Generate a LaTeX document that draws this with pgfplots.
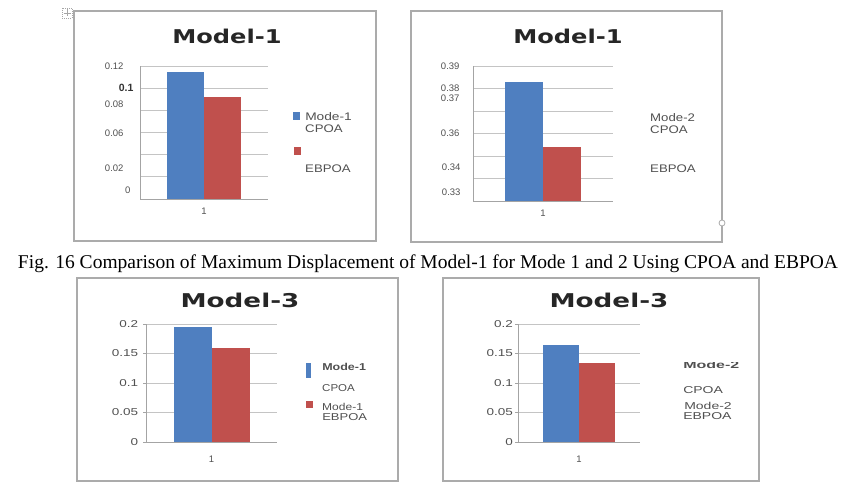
\documentclass[border=0pt]{standalone}
\usepackage{pgfplots}
\pgfplotsset{compat=1.18}
\usepackage{fontspec}
\setmainfont{Liberation Sans}
\newfontfamily\capfont{Liberation Serif}
\newfontfamily\ttlfont{DejaVu Sans}

\definecolor{xlblue}{HTML}{4F7FC0}
\definecolor{xlred}{HTML}{C0504D}
\definecolor{gridgray}{HTML}{C4C4C4}
\definecolor{axisgray}{HTML}{A4A4A4}
\definecolor{framegray}{HTML}{ABABAB}
\definecolor{txtgray}{HTML}{505050}

\tikzset{
  ttl/.style={anchor=base, text=black!85, font=\ttlfont\bfseries\fontsize{19}{20}\selectfont},
  ylab/.style={anchor=east, text=txtgray, font=\fontsize{9.5}{10}\selectfont},
  lg/.style={anchor=base west, text=txtgray, font=\fontsize{11}{12}\selectfont, inner sep=0pt},
  frame/.style={draw=framegray, line width=1.3pt},
}

\pgfplotsset{
  panel/.style={
    scale only axis, anchor=south west,
    ybar=0pt, clip mode=individual,
    xmin=0, xmax=2, xtick={1}, xticklabels={1},
    axis x line*=bottom, axis y line*=left,
    axis line style={-, draw=axisgray, line width=0.9pt},
    ymajorgrids, grid style={draw=gridgray, line width=0.9pt},
    major tick length=0pt,
    tick label style={text=txtgray, font=\fontsize{9.5}{10}\selectfont},
    xticklabel style={yshift=-5pt},
  },
  lowpanel/.style={
    panel,
    major tick length=3pt, tick align=outside,
    ytick style={draw=axisgray, line width=0.8pt},
    xtick style={draw=none},
    yticklabel style={font=\fontsize{10}{11}\selectfont, xscale=1.35, anchor=east},
    xticklabel style={yshift=-2pt},
  },
}

\begin{document}
\begin{tikzpicture}
\path[use as bounding box] (0pt,0pt) rectangle (851pt,-486pt);

% chart frames
\begin{scope}[x=1pt,y=-1pt]
  \draw[frame] (74,11) rectangle (376,241);
  \draw[frame] (411,11) rectangle (722,242);
  \draw[frame] (77,278) rectangle (398,481);
  \draw[frame] (443,278) rectangle (759,481);
  % selection handles
  \draw[gray!70, line width=0.6pt, dash pattern=on 1pt off 1pt] (62,8) rectangle (72,18);
  \draw[gray!70, line width=0.5pt] (67,9.5) -- (67,16.5) (63.5,13) -- (70.5,13);
  \draw[framegray, fill=white, line width=0.8pt] (722,223) circle (3);
\end{scope}

% Model-1, mode 1
\begin{axis}[panel, at={(140pt,-199pt)}, width=128pt, height=133pt,
  bar width=37pt, ymin=0, ymax=0.12,
  ytick={0,0.02,0.04,0.06,0.08,0.1,0.12}, yticklabels={,,}]
  \addplot[fill=xlblue, draw=none] coordinates {(1,0.115)};
  \addplot[fill=xlred, draw=none] coordinates {(1,0.092)};
  \node[ylab, xshift=-13pt] at (axis cs:0,0.12) {0.12};
  \node[ylab, xshift=-3pt, text=black!80, font=\bfseries\fontsize{10.5}{11}\selectfont] at (axis cs:0,0.1) {0.1};
  \node[ylab, xshift=-13pt] at (axis cs:0,0.0857) {0.08};
  \node[ylab, xshift=-13pt] at (axis cs:0,0.0596) {0.06};
  \node[ylab, xshift=-13pt] at (axis cs:0,0.028) {0.02};
  \node[ylab, xshift=-6pt] at (axis cs:0,0.0081) {0};
\end{axis}

% Model-1, mode 2
\begin{axis}[panel, at={(473pt,-201pt)}, width=140pt, height=135pt,
  bar width=38pt, ymin=0.33, ymax=0.39,
  ytick={0.33,0.34,0.35,0.36,0.37,0.38,0.39}, yticklabels={,,}]
  \addplot[fill=xlblue, draw=none] coordinates {(1,0.383)};
  \addplot[fill=xlred, draw=none] coordinates {(1,0.354)};
  \node[ylab, xshift=-10pt] at (axis cs:0,0.39) {0.39};
  \node[ylab, xshift=-10pt] at (axis cs:0,0.3801) {0.38};
  \node[ylab, xshift=-10pt] at (axis cs:0,0.3756) {0.37};
  \node[ylab, xshift=-10pt] at (axis cs:0,0.3602) {0.36};
  \node[ylab, xshift=-9pt] at (axis cs:0,0.345) {0.34};
  \node[ylab, xshift=-9pt] at (axis cs:0,0.3341) {0.33};
\end{axis}

% Model-3, mode 1
\begin{axis}[lowpanel, at={(146pt,-442pt)}, width=131pt, height=118pt,
  bar width=38pt, ymin=0, ymax=0.2,
  ytick={0,0.05,0.1,0.15,0.2}, yticklabels={0,0.05,0.1,0.15,0.2}]
  \addplot[fill=xlblue, draw=none] coordinates {(1,0.195)};
  \addplot[fill=xlred, draw=none] coordinates {(1,0.159)};
\end{axis}

% Model-3, mode 2
\begin{axis}[lowpanel, at={(518pt,-442pt)}, width=122pt, height=118pt,
  bar width=36pt, ymin=0, ymax=0.2,
  ytick={0,0.05,0.1,0.15,0.2}, yticklabels={0,0.05,0.1,0.15,0.2},
  yticklabel style={xshift=2pt}]
  \addplot[fill=xlblue, draw=none] coordinates {(1,0.164)};
  \addplot[fill=xlred, draw=none] coordinates {(1,0.134)};
\end{axis}

% titles, legends and caption
\begin{scope}[x=1pt,y=-1pt]
  \node[ttl, xscale=1.27] at (227,44) {Model-1};
  \node[ttl, xscale=1.27] at (568,44) {Model-1};
  \node[ttl, xscale=1.38] at (240,307) {Model-3};
  \node[ttl, xscale=1.38] at (609,307) {Model-3};

  % legend, Model-1 mode 1
  \fill[xlblue] (293,112) rectangle (300,120);
  \fill[xlred] (294,147) rectangle (301,155);
  \node[lg, xscale=1.25] at (305,121) {Mode-1};
  \node[lg, xscale=1.2] at (305,133) {CPOA};
  \node[lg, xscale=1.2] at (305,173) {EBPOA};

  % legend, Model-1 mode 2
  \node[lg, xscale=1.2] at (650,122) {Mode-2};
  \node[lg, xscale=1.2] at (650,134) {CPOA};
  \node[lg, xscale=1.2] at (650,173) {EBPOA};

  % legend, Model-3 mode 1
  \fill[xlblue] (306,363) rectangle (311,378);
  \fill[xlred] (306,401) rectangle (313,408);
  \node[lg, xscale=1.25, font=\bfseries\fontsize{10}{11}\selectfont] at (322,370) {Mode-1};
  \node[lg, xscale=1.15, font=\fontsize{10}{11}\selectfont] at (322,391) {CPOA};
  \node[lg, xscale=1.2, font=\fontsize{10}{11}\selectfont] at (322,410) {Mode-1};
  \node[lg, xscale=1.3, font=\fontsize{10}{11}\selectfont] at (322,420) {EBPOA};

  % legend, Model-3 mode 2
  \begin{scope}
    \clip (680,362) rectangle (760,370);
    \node[lg, xscale=1.6, font=\bfseries\fontsize{10}{11}\selectfont] at (683,368) {Mode-2};
  \end{scope}
  \node[lg, xscale=1.4, font=\fontsize{10}{11}\selectfont] at (683,393) {CPOA};
  \node[lg, xscale=1.4, font=\fontsize{10}{11}\selectfont] at (684,409) {Mode-2};
  \node[lg, xscale=1.4, font=\fontsize{10}{11}\selectfont] at (683,419) {EBPOA};

  \node[anchor=base, font=\capfont\fontsize{19.5}{22}\selectfont] at (428,269)
    {Fig. 16 Comparison of Maximum Displacement of Model-1 for Mode 1 and 2 Using CPOA and EBPOA};
\end{scope}
\end{tikzpicture}
\end{document}
